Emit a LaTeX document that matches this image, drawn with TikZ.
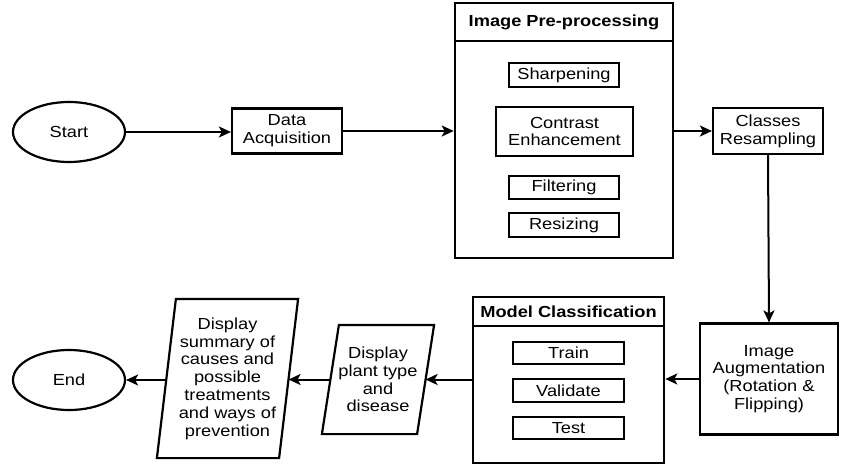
\documentclass[tikz,border=0pt]{standalone}
\usepackage{fontspec}
\setmainfont{Liberation Sans}[FakeStretch=1.14]
\usetikzlibrary{arrows.meta,calc,shapes.geometric}
\tikzset{
  base/.style={font=\fontsize{16}{17.8}\selectfont, align=center, inner sep=0pt, line width=2.2pt},
  procbox/.style={base, draw, rectangle},
  term/.style={base, draw, ellipse, minimum width=112pt, minimum height=60pt},
  container/.style={draw, rectangle, line width=2.6pt, inner sep=0pt},
  title/.style={font=\bfseries\fontsize{16}{18}\selectfont, inner sep=0pt},
  iobox/.style={base, rectangle},
  para/.style={line width=2.2pt},
  conn/.style={line width=2pt, -{Stealth[length=12pt,width=11pt,inset=3pt]}}
}
\begin{document}
\begin{tikzpicture}[x=1pt,y=-1pt]
\useasboundingbox (0,0) rectangle (846,465);

% terminals
\node[term] (start) at (69,132) {Start};
\node[term] (end) at (69,380) {End};

% data acquisition
\node[procbox, minimum width=110pt, minimum height=45pt] (acq) at (287,131) {Data\\Acquisition};

% pre-processing container
\node[container, minimum width=218pt, minimum height=255pt] (pre) at (564,130.5) {};
\coordinate (preHL) at (455,41);
\coordinate (preHR) at (673,41);
\draw[line width=2.2pt] (preHL) -- (preHR);
\node[title] (pretitle) at (564,22) {Image Pre-processing};
\node[procbox, minimum width=110pt, minimum height=24pt] (sharp) at (564,75) {Sharpening};
\node[procbox, minimum width=137pt, minimum height=49pt] (contrast) at (564.5,131.5) {Contrast\\Enhancement};
\node[procbox, minimum width=110pt, minimum height=23pt] (filter) at (564,187.5) {Filtering};
\node[procbox, minimum width=110pt, minimum height=24pt] (resize) at (564,225) {Resizing};

% classes resampling
\node[procbox, minimum width=110pt, minimum height=46pt] (classes) at (768,131) {Classes\\Resampling};

% augmentation
\node[procbox, minimum width=138pt, minimum height=111pt] (aug) at (769,379) {Image\\Augmentation\\(Rotation \&\\Flipping)};

% model classification container
\node[container, minimum width=191pt, minimum height=166pt] (model) at (568.5,380) {};
\coordinate (modHL) at (473,326);
\coordinate (modHR) at (664,326);
\draw[line width=2.2pt] (modHL) -- (modHR);
\node[title] (modtitle) at (568.5,311.5) {Model Classification};
\node[procbox, minimum width=111pt, minimum height=22pt] (train) at (568.5,353) {Train};
\node[procbox, minimum width=111pt, minimum height=23pt] (valid) at (568.5,390.5) {Validate};
\node[procbox, minimum width=111pt, minimum height=22pt] (test) at (568.5,428) {Test};

% display plant type (parallelogram)
\node[iobox, minimum width=93pt, minimum height=107pt] (d1) at (378,379.5) {Display\\plant type\\and\\disease};
\draw[para] ($(d1.north west)+(8.5,0)$) -- ($(d1.north east)+(8.5,0)$) -- ($(d1.south east)+(-8.5,0)$) -- ($(d1.south west)+(-8.5,0)$) -- cycle;

% display summary (parallelogram)
\node[iobox, minimum width=120pt, minimum height=157pt] (d2) at (227.5,378.5) {Display\\summary of\\causes and\\possible\\treatments\\and ways of\\prevention};
\draw[para] ($(d2.north west)+(9.5,0)$) -- ($(d2.north east)+(9.5,0)$) -- ($(d2.south east)+(-9.5,0)$) -- ($(d2.south west)+(-9.5,0)$) -- cycle;

% connectors
\draw[conn] (start.east) -- (acq.west |- start.east);
\draw[conn] (acq.east) -- (pre.west |- acq.east);
\draw[conn] (pre.east |- classes.west) -- (classes.west);
\draw[conn] (classes.south) -- (aug.north);
\draw[conn] (aug.west) -- (model.east |- aug.west);
\draw[conn] (model.west |- d1.east) -- (d1.east);
\draw[conn] (d1.west) -- (d2.east |- d1.west);
\draw[conn] (d2.west |- end.east) -- (end.east);
\end{tikzpicture}
\end{document}
